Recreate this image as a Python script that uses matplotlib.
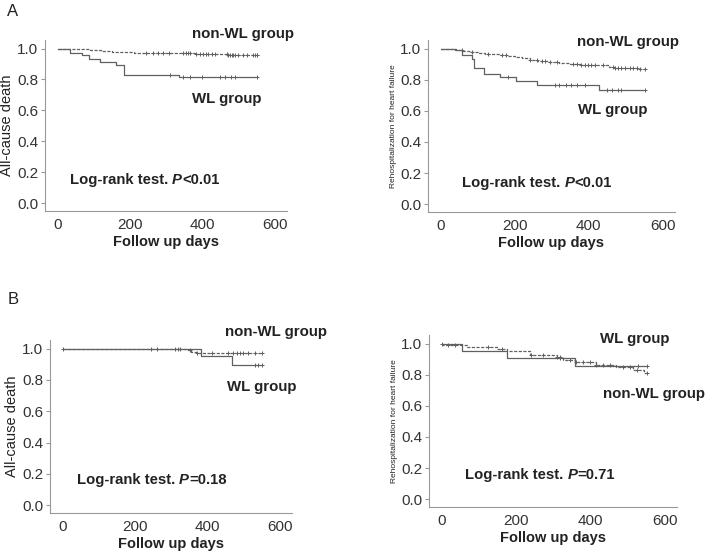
import numpy as np
import matplotlib.pyplot as plt

plt.rcParams['font.family'] = ['Liberation Sans', 'DejaVu Sans']

# ---- panel A, all-cause death ----
a1_wl_t = [0, 35, 67, 86, 116, 160, 183, 335]
a1_wl_s = [1.0, 0.974, 0.955, 0.935, 0.912, 0.892, 0.832, 0.817]
a1_wl_c = [311, 345, 365, 397, 448, 462, 478, 489, 551]
a1_non_t = [0, 60, 90, 120, 150, 180, 210, 300, 380, 470, 540]
a1_non_s = [1.0, 0.995, 0.99, 0.985, 0.98, 0.976, 0.972, 0.968, 0.964, 0.96, 0.957]
a1_non_c = [245, 264, 277, 291, 308, 347, 354, 360, 365, 383, 393, 402, 409, 416,
            425, 434, 466, 471, 476, 480, 485, 489, 498, 512, 522, 540, 545, 549, 551]

# ---- panel A, rehospitalization ----
a2_wl_t = [0, 38, 56, 83, 89, 117, 159, 204, 261, 428]
a2_wl_s = [1.0, 0.989, 0.961, 0.933, 0.875, 0.839, 0.815, 0.789, 0.763, 0.735]
a2_wl_c = [182, 308, 319, 337, 353, 369, 389, 448, 463, 479, 488, 551]
a2_non_t = [0, 20, 40, 60, 80, 100, 120, 140, 160, 180, 200, 220, 240, 260, 290,
            320, 350, 380, 420, 455, 470, 530]
a2_non_s = [1.0, 0.995, 0.99, 0.984, 0.978, 0.973, 0.968, 0.963, 0.958, 0.953, 0.945,
            0.937, 0.928, 0.92, 0.913, 0.907, 0.901, 0.897, 0.893, 0.88, 0.875, 0.87]
a2_non_c = [56, 83, 128, 164, 177, 241, 259, 272, 281, 295, 313, 358, 367, 380, 389,
            398, 407, 416, 439, 464, 470, 479, 488, 497, 511, 520, 529, 538, 551]

# ---- panel B, all-cause death ----
b1_wl_t = [0, 383, 466]
b1_wl_s = [1.0, 0.95, 0.893]
b1_wl_c = [245, 259, 310, 317, 323, 531, 538, 551]
b1_non_t = [0, 345, 355, 370]
b1_non_s = [1.0, 0.99, 0.98, 0.97]
b1_non_c = [2, 351, 370, 411, 457, 471, 480, 489, 499, 512, 531, 551]

# ---- panel B, rehospitalization ----
b2_wl_t = [0, 53, 174, 358]
b2_wl_s = [1.0, 0.955, 0.906, 0.857]
b2_wl_c = [317, 528, 551]
b2_non_t = [0, 2, 67, 148, 174, 237, 309, 326, 358, 416, 470, 515, 545]
b2_non_s = [1.0, 0.99, 0.976, 0.962, 0.955, 0.929, 0.912, 0.895, 0.88, 0.863,
            0.848, 0.831, 0.814]
b2_non_c = [0, 17, 35, 125, 161, 241, 273, 309, 317, 344, 362, 380, 398, 416, 434,
            452, 488, 506, 524, 551]

END_DAY = 551
LINE = '#606060'
TXT = '#222222'
DASH = (0, (2.5, 1.2))


def km(ax, t, s, cens, ls):
    tt = list(t) + [END_DAY]
    ss = list(s) + [s[-1]]
    ax.step(tt, ss, where='post', color=LINE, lw=0.9, ls=ls)
    idx = np.searchsorted(t, cens, side='right') - 1
    ax.plot(cens, np.array(s)[idx], '+', color=LINE, ms=3.2, mew=0.7)


def setup(ax, ylabel, ysize):
    ax.set_xlim(-35, 633)
    ax.set_ylim(-0.05, 1.055)
    ax.set_xticks([0, 200, 400, 600])
    ax.set_yticks([0.0, 0.2, 0.4, 0.6, 0.8, 1.0])
    ax.set_yticklabels(['0.0', '0.2', '0.4', '0.6', '0.8', '1.0'])
    for sp in ['top', 'right']:
        ax.spines[sp].set_visible(False)
    for sp in ['left', 'bottom']:
        ax.spines[sp].set_color('#999999')
        ax.spines[sp].set_linewidth(0.8)
    ax.tick_params(axis='both', labelsize=11, colors='#999999', labelcolor='#333333',
                   length=3, width=0.8, pad=2)
    ax.tick_params(axis='x', length=0, pad=5)
    ax.set_ylabel(ylabel, fontsize=ysize, color=TXT, labelpad=2)
    ax.set_xlabel('Follow up days', fontsize=10.5, fontweight='bold', color=TXT,
                  labelpad=2)


def logrank(ax, x, y, rest):
    t1 = ax.text(x, y, 'Log-rank test. ', fontsize=10.7, fontweight='bold',
                 color=TXT, va='center')
    t2 = ax.annotate('P', xy=(1, 0), xycoords=t1, va='bottom', fontsize=10.7,
                     fontweight='bold', style='italic', color=TXT)
    ax.annotate(rest, xy=(1, 0), xycoords=t2, va='bottom', fontsize=10.7,
                fontweight='bold', color=TXT)


def label(ax, x, y, s):
    ax.text(x, y, s, fontsize=10.8, fontweight='bold', color=TXT, va='center',
            clip_on=False)


fig = plt.figure(figsize=(7.09, 5.54), dpi=100)
W, H = 709, 554


def add_axes(l, r, t, b):
    return fig.add_axes([l / W, (H - b) / H, (r - l) / W, (b - t) / H])


ax1 = add_axes(45, 287, 40, 211)
ax2 = add_axes(428, 675, 40, 212)
ax3 = add_axes(50, 292, 340, 513)
ax4 = add_axes(429, 677, 335, 507)

km(ax1, a1_non_t, a1_non_s, a1_non_c, DASH)
km(ax1, a1_wl_t, a1_wl_s, a1_wl_c, '-')
setup(ax1, 'All-cause death', 10.5)
label(ax1, 370, 1.097, 'non-WL group')
label(ax1, 370, 0.671, 'WL group')
logrank(ax1, 33, 0.148, '<0.01')

km(ax2, a2_non_t, a2_non_s, a2_non_c, DASH)
km(ax2, a2_wl_t, a2_wl_s, a2_wl_c, '-')
setup(ax2, 'Rehospitalization for heart failure', 6)
label(ax2, 368, 1.045, 'non-WL group')
label(ax2, 370, 0.606, 'WL group')
logrank(ax2, 57, 0.135, '<0.01')

km(ax3, b1_non_t, b1_non_s, b1_non_c, DASH)
km(ax3, b1_wl_t, b1_wl_s, b1_wl_c, '-')
setup(ax3, 'All-cause death', 10.5)
label(ax3, 448, 1.108, 'non-WL group')
label(ax3, 453, 0.752, 'WL group')
logrank(ax3, 39, 0.159, '=0.18')

km(ax4, b2_non_t, b2_non_s, b2_non_c, DASH)
km(ax4, b2_wl_t, b2_wl_s, b2_wl_c, '-')
setup(ax4, 'Rehospitalization for heart failure', 6)
label(ax4, 425, 1.032, 'WL group')
label(ax4, 433, 0.679, 'non-WL group')
logrank(ax4, 62, 0.154, '=0.71')

fig.text(13 / W, 1 - 12 / H, 'A', fontsize=12, color=TXT, ha='center', va='center')
fig.text(13 / W, 1 - 299 / H, 'B', fontsize=12, color=TXT, ha='center', va='center')

fig.savefig('out.png', dpi=100)
